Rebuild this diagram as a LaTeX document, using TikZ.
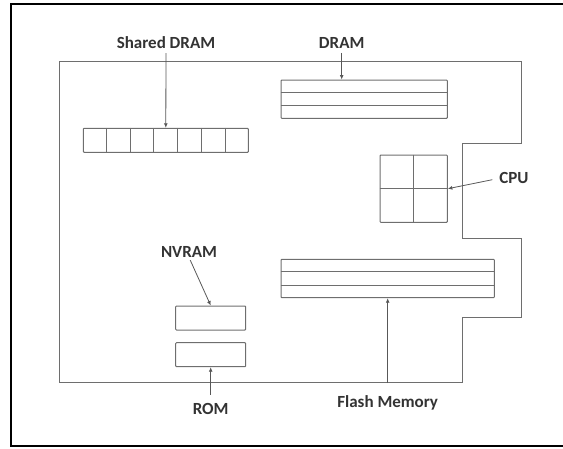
\documentclass[tikz,border=0pt]{standalone}
\usepackage{fontspec}
\setmainfont{Carlito}
\usetikzlibrary{arrows.meta,calc}
\definecolor{linegray}{HTML}{6E6E6E}
\definecolor{textgray}{HTML}{333333}
\tikzset{
  board/.style={draw=linegray, line width=1pt},
  chip/.style={draw=linegray, line width=1pt, rounded corners=0.8pt, rectangle, inner sep=0pt},
  divider/.style={draw=linegray, line width=1pt},
  partlabel/.style={inner sep=0pt, text height=11pt, text depth=0pt, text=textgray,
    font=\fontsize{17}{17}\selectfont\bfseries},
  pointer/.style={draw=linegray!80!black, line width=0.8pt, -{Latex[length=4.5pt,width=4pt]}}
}
\begin{document}
\begin{tikzpicture}[x=1pt,y=-1pt]
\useasboundingbox (0,0) rectangle (563,448);
% outer frame (open on the right)
\draw[line width=1.8pt] (563,4) -- (11,4) -- (11,446) -- (563,446);
% board outline
\draw[board] (59.3,61.7) -- (521,61.7) -- (521,143.3) -- (462.3,143.3) -- (462.3,238.3)
  -- (521,238.3) -- (521,317.7) -- (462.3,317.7) -- (462.3,382.7) -- (59.3,382.7) -- cycle;
% shared DRAM: row of seven cells
\node[chip, minimum width=165pt, minimum height=24pt] (sd) at (165.8,140.3) {};
\foreach \i in {1,...,6}
  \draw[divider] ($(sd.north west)!\i/7!(sd.north east)$) -- ($(sd.south west)!\i/7!(sd.south east)$);
% DRAM: three stacked strips
\node[chip, minimum width=166.3pt, minimum height=38.3pt] (dram) at (364.2,99.2) {};
\foreach \i in {1,2}
  \draw[divider] ($(dram.north west)!\i/3!(dram.south west)$) -- ($(dram.north east)!\i/3!(dram.south east)$);
% CPU: four quadrants
\node[chip, minimum width=67.3pt, minimum height=67.3pt] (cpu) at (413.7,188.7) {};
\draw[divider] (cpu.north) -- (cpu.south);
\draw[divider] (cpu.west) -- (cpu.east);
% flash memory: three stacked strips
\node[chip, minimum width=213.3pt, minimum height=38.4pt] (flash) at (387.7,278.5) {};
\foreach \i in {1,2}
  \draw[divider] ($(flash.north west)!\i/3!(flash.south west)$) -- ($(flash.north east)!\i/3!(flash.south east)$);
% NVRAM and ROM
\node[chip, minimum width=70pt, minimum height=24pt] (nvram) at (210.7,318) {};
\node[chip, minimum width=70pt, minimum height=24pt] (rom) at (210.7,354.7) {};
% labels
\node[partlabel] (sdl) at (166,43) {Shared DRAM};
\node[partlabel] (draml) at (341.7,42.7) {DRAM};
\node[partlabel] (cpul) at (514,178.3) {CPU};
\node[partlabel] (nvraml) at (189,251.7) {NVRAM};
\node[partlabel] (roml) at (210.7,409.3) {ROM};
\node[partlabel] (flashl) at (387.7,401.7) {Flash Memory};
% pointers
\draw[pointer, shorten <=4.5pt] (sdl.south) -- (sd.north);
\draw[pointer, shorten <=4.5pt] (draml.south) -- (draml.south |- dram.north);
\draw[pointer, shorten <=7pt] (cpul.west) -- (cpu.east);
\draw[pointer, shorten <=3pt] (nvraml.south) -- (nvram.north);
\draw[pointer, shorten <=9pt] (roml.north) -- (rom.south);
\draw[pointer, shorten <=13pt] (flashl.north) -- (flash.south);
\end{tikzpicture}
\end{document}
